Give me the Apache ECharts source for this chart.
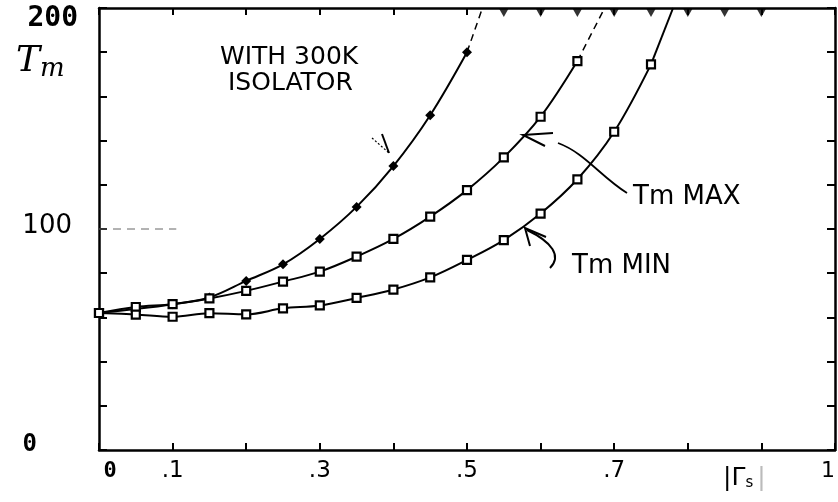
<!DOCTYPE html>
<html><head><meta charset="utf-8">
<script src="https://cdn.jsdelivr.net/npm/echarts@6/dist/echarts.min.js"></script>
<style>html,body{margin:0;padding:0;background:#fff}#c{width:838px;height:502px}</style>
</head><body><div id="c"></div>
<script>
// x positions of the plotted points (|Γs|)
const xVals = [0, 0.05, 0.1, 0.15, 0.2, 0.25, 0.3, 0.35, 0.4, 0.45, 0.5, 0.55, 0.6, 0.65, 0.7, 0.75];
// Tm with 300K isolator
const isoT = [62, 63.8, 66, 69, 76.5, 84, 95.5, 110, 128.5, 151.5, 180];
// Tm max
const maxT = [62, 64.7, 66, 68.6, 72, 76.2, 80.7, 87.5, 95.5, 105.6, 117.6, 132.4, 150.8, 176];
// Tm min
const minT = [62, 61.3, 60.3, 61.9, 61.4, 64.1, 65.4, 68.8, 72.6, 78.1, 86, 95, 107, 122.5, 144, 174.5];
// where each curve leaves the top of the plot
const isoExit = [0.521, 200];
const maxExit = [0.687, 200];
const minExit = [0.78, 200];
// off-scale points drawn at the top edge
const offScaleX = [0.55, 0.6, 0.65, 0.7, 0.75, 0.8, 0.85, 0.9];
const offScaleY = 200;
// short dashed reference at 100
const refX = [0, 0.105];
const refY = 100;
// tick labels
const xTickLabels = ['0', '.1', '', '.3', '', '.5', '', '.7', '', '|Γs|', '1'];
const yTickLabels = {0: '0', 100: '100', 200: '200'};

const pts = (ys) => ys.map((y, i) => [xVals[i], y]);
const lastOf = (ys) => [xVals[ys.length - 1], ys[ys.length - 1]];

const chart = echarts.init(document.getElementById('c'), null, {renderer: 'canvas'});
const sqStyle = {color: '#fff', borderColor: '#000', borderWidth: 2.2};
const hand = '"DejaVu Sans"';
const mono = '"DejaVu Sans Mono"';

chart.setOption({
  animation: false,
  backgroundColor: '#fff',
  grid: {left: 99, right: 3, top: 8, bottom: 52, show: false},
  xAxis: [{
    type: 'value', min: 0, max: 1, interval: 0.1, position: 'bottom',
    axisLine: {show: true, onZero: false, lineStyle: {color: '#000', width: 2.5}},
    axisTick: {show: true, inside: true, length: 7, lineStyle: {color: '#000', width: 2}},
    splitLine: {show: false},
    axisLabel: {
      show: true, margin: 10, hideOverlap: false, showMinLabel: true, showMaxLabel: true,
      color: '#000', fontFamily: hand, fontSize: 22,
      formatter: (v) => {
        const i = Math.round(v * 10);
        const t = xTickLabels[i] || '';
        if (!t) return '';
        if (i === 0) return '{z|' + t + '}';
        if (i === 10) return '{o|' + t + '}';
        if (i === 9) return '{g||Γ}{s|s}{e||}';
        return '{n|' + t + '}';
      },
      rich: {
        z: {fontFamily: mono, fontWeight: 'bold', fontSize: 22, color: '#000', padding: [0, 0, 0, 22]},
        o: {fontFamily: hand, fontSize: 22, color: '#000', padding: [0, 14, 0, 0]},
        n: {fontFamily: hand, fontSize: 23, color: '#000'},
        g: {fontFamily: hand, fontSize: 25, color: '#000', padding: [6, 0, 0, 0]},
        s: {fontFamily: hand, fontSize: 15, color: '#000', padding: [16, 0, 0, 0]},
        e: {fontFamily: hand, fontSize: 25, color: '#bbb', padding: [6, 34, 0, 4]}
      }
    }
  }, {
    type: 'value', min: 0, max: 1, interval: 0.1, position: 'top',
    axisLine: {show: true, onZero: false, lineStyle: {color: '#000', width: 2.5}},
    axisTick: {show: true, inside: true, length: 7, lineStyle: {color: '#000', width: 2}},
    splitLine: {show: false}, axisLabel: {show: false}
  }],
  yAxis: [{
    type: 'value', min: 0, max: 200, interval: 20, position: 'left',
    axisLine: {show: true, onZero: false, lineStyle: {color: '#000', width: 2.5}},
    axisTick: {show: true, inside: true, length: 8, lineStyle: {color: '#000', width: 2}},
    splitLine: {show: false},
    axisLabel: {
      show: true, margin: 21, hideOverlap: false, showMinLabel: true, showMaxLabel: true,
      formatter: (v) => {
        const t = yTickLabels[Math.round(v)];
        if (!t) return '';
        if (v === 200) return '{t|' + t + '}';
        if (v === 100) return '{h|' + t + '}';
        return '{z|' + t + '}';
      },
      rich: {
        t: {fontFamily: mono, fontWeight: 'bold', fontSize: 28, color: '#000', padding: [22, 0, 0, 0]},
        h: {fontFamily: hand, fontSize: 26, color: '#000', padding: [0, 6, 6, 0]},
        z: {fontFamily: mono, fontWeight: 'bold', fontSize: 24, color: '#000', padding: [0, 41, 10, 0]}
      }
    }
  }, {
    type: 'value', min: 0, max: 200, interval: 20, position: 'right',
    axisLine: {show: true, onZero: false, lineStyle: {color: '#000', width: 2.5}},
    axisTick: {show: true, inside: true, length: 8, lineStyle: {color: '#000', width: 2}},
    splitLine: {show: false}, axisLabel: {show: false}
  }],
  series: [
    {
      name: 'ref', type: 'line', xAxisIndex: 0, yAxisIndex: 0, silent: true,
      data: refX.map(x => [x, refY]), symbol: 'none',
      lineStyle: {color: '#666', width: 1, type: [8, 6]}
    },
    {
      name: 'With 300K isolator', type: 'line', xAxisIndex: 0, yAxisIndex: 0,
      data: pts(isoT), smooth: 0.35, symbol: 'diamond', symbolSize: 10,
      itemStyle: {color: '#000'}, lineStyle: {color: '#000', width: 2}
    },
    {
      name: 'iso ext', type: 'line', data: [lastOf(isoT), isoExit], symbol: 'none',
      lineStyle: {color: '#000', width: 1.5, type: [7, 5]}
    },
    {
      name: 'Tm max', type: 'line', data: pts(maxT), smooth: 0.35,
      symbol: 'rect', symbolSize: 8, itemStyle: sqStyle, lineStyle: {color: '#000', width: 2}
    },
    {
      name: 'max ext', type: 'line', data: [lastOf(maxT), maxExit], symbol: 'none',
      lineStyle: {color: '#000', width: 1.5, type: [7, 5]}
    },
    {
      name: 'Tm min', type: 'line', data: pts(minT), smooth: 0.35,
      symbol: 'rect', symbolSize: 8, itemStyle: sqStyle, lineStyle: {color: '#000', width: 2}
    },
    {
      name: 'min ext', type: 'line', data: [lastOf(minT), minExit], symbol: 'none',
      lineStyle: {color: '#000', width: 2}
    },
    {
      name: 'off scale', type: 'scatter', data: offScaleX.map(x => [x, offScaleY]),
      symbol: 'triangle', symbolRotate: 180, symbolSize: [9, 8], symbolOffset: [0, 5],
      itemStyle: {color: '#000'}, clip: false
    }
  ],
  graphic: [
    {type: 'text', x: 16, y: 42, style: {
      text: '{T|T}{m|m}', rich: {
        T: {fontFamily: '"DejaVu Serif"', fontStyle: 'italic', fontSize: 36, fill: '#000', color: '#000'},
        m: {fontFamily: '"DejaVu Serif"', fontStyle: 'italic', fontSize: 26, fill: '#000', color: '#000', padding: [14, 0, 0, 0]}
      }}},
    {type: 'text', x: 220, y: 57, style: {text: 'WITH 300K', fontFamily: 'DejaVu Sans', fontSize: 25, fill: '#000', verticalAlign: 'middle'}},
    {type: 'text', x: 228, y: 83, style: {text: 'ISOLATOR', fontFamily: 'DejaVu Sans', fontSize: 25, fill: '#000', verticalAlign: 'middle'}},
    {type: 'text', x: 633, y: 197, style: {text: 'Tm MAX', fontFamily: 'DejaVu Sans', fontSize: 26, fill: '#000', verticalAlign: 'middle'}},
    {type: 'text', x: 572, y: 266, style: {text: 'Tm MIN', fontFamily: 'DejaVu Sans', fontSize: 26, fill: '#000', verticalAlign: 'middle'}},
    // small arrow to isolator curve
    {type: 'polyline', shape: {points: [[372, 138], [389, 153]]}, style: {stroke: '#000', lineWidth: 1.2, lineDash: [2, 2], fill: null}},
    {type: 'polyline', shape: {points: [[382, 134], [389, 153]]}, style: {stroke: '#000', lineWidth: 2, fill: null}},
    // Tm max leader
    {type: 'polyline', shape: {points: [[553, 133], [523, 135], [545, 146]]}, style: {stroke: '#000', lineWidth: 2, fill: null}},
    {type: 'bezierCurve', shape: {x1: 558, y1: 143, cpx1: 585, cpy1: 153, cpx2: 600, cpy2: 176, x2: 627, y2: 193}, style: {stroke: '#000', lineWidth: 1.8, fill: null}},
    // Tm min leader
    {type: 'polyline', shape: {points: [[546, 237], [525, 228], [530, 246]]}, style: {stroke: '#000', lineWidth: 2, fill: null}},
    {type: 'bezierCurve', shape: {x1: 527, y1: 230, cpx1: 552, cpy1: 242, cpx2: 562, cpy2: 256, x2: 550, y2: 268}, style: {stroke: '#000', lineWidth: 2, fill: null}}
  ]
});
</script>
</body></html>
